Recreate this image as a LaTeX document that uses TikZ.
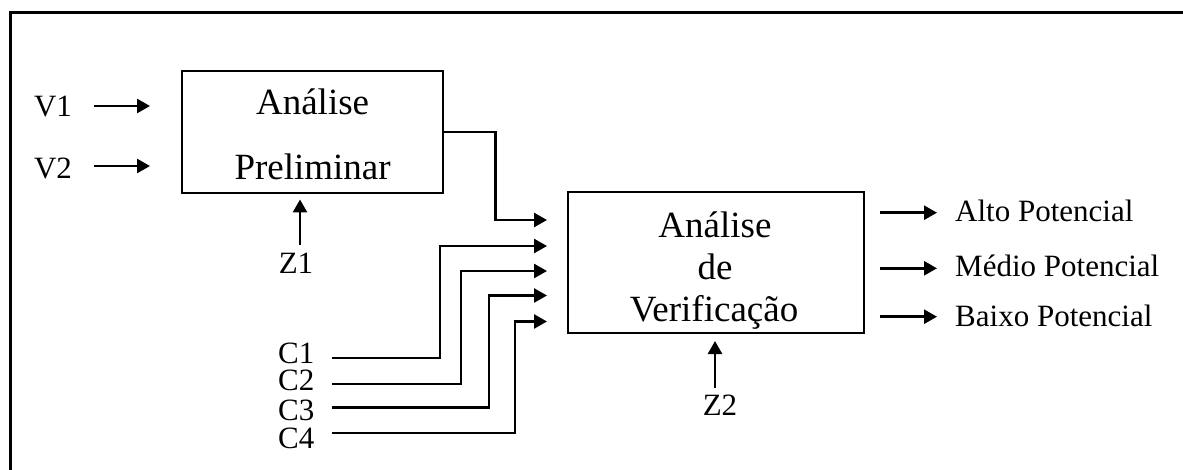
\documentclass[tikz,border=0pt]{standalone}
\usepackage{fontspec}
\setmainfont{Liberation Serif}
\usetikzlibrary{arrows.meta}
\begin{document}
\begin{tikzpicture}[x=1pt,y=-1pt,
  blk/.style={draw,line width=2pt,minimum width=#1,inner sep=0pt},
  bigtxt/.style={font=\fontsize{37}{40}\selectfont,inner sep=0pt,anchor=base},
  lbl/.style={font=\fontsize{31}{34}\selectfont,inner sep=0pt},
  conn/.style={line width=2.6pt,-{Triangle[length=13pt,width=14pt]}},
  wire/.style={line width=2.6pt}]
\useasboundingbox (0,0) rectangle (1183,470);
\clip (0,0) rectangle (1183,470);
\fill[white] (0,0) rectangle (1183,470);
% frame (only top and left edges are visible)
\draw[line width=2.4pt] (10.5,12.7) rectangle (1300,600);
% boxes
\node[blk=261.4pt,minimum height=121.7pt] (p) at (312.5,131.9) {};
\node[blk=296pt,minimum height=141pt] (v) at (716,262.5) {};
% box texts
\node[bigtxt] (p1) at (312.6,115) {Análise};
\node[bigtxt] (p2) at (312.6,179.3) {Preliminar};
\node[bigtxt] (v1t) at (715,237.3) {Análise};
\node[bigtxt] (v2t) at (715,279.3) {de};
\node[bigtxt] (v3t) at (714,321.7) {Verificação};
% input labels
\node[lbl,anchor=base] (V1) at (53,117) {V1};
\node[lbl,anchor=base] (V2) at (53,179) {V2};
\node[lbl,anchor=base] (Z1) at (296,274) {Z1};
\node[lbl,anchor=base] (Z2) at (720,415) {Z2};
\node[lbl,anchor=base west] (C1) at (278,363) {C1};
\node[lbl,anchor=base west] (C2) at (278,390.7) {C2};
\node[lbl,anchor=base west] (C3) at (278,420) {C3};
\node[lbl,anchor=base west] (C4) at (278,448) {C4};
% output labels
\node[lbl,anchor=base west] (o1) at (955,221.7) {Alto Potencial};
\node[lbl,anchor=base west] (o2) at (955,276.7) {Médio Potencial};
\node[lbl,anchor=base west] (o3) at (955,326.7) {Baixo Potencial};
% coordinates
\coordinate (v1s) at (94,106);   \coordinate (v1e) at (150,106);
\coordinate (v2s) at (94,166);   \coordinate (v2e) at (150,166);
\coordinate (z1s) at (300,245);  \coordinate (z1e) at (300,199.5);
\coordinate (z2s) at (715,388);  \coordinate (z2e) at (715,341);
\coordinate (i0) at (547,220);
\coordinate (i1) at (547,246);
\coordinate (i2) at (547,271);
\coordinate (i3) at (547,295.5);
\coordinate (i4) at (547,321.5);
\coordinate (c1s) at (332,358);
\coordinate (c2s) at (332,384);
\coordinate (c3s) at (332,407.5);
\coordinate (c4s) at (332,433);
\coordinate (a1s) at (880,212.7); \coordinate (a1e) at (937,212.7);
\coordinate (a2s) at (880,268.3); \coordinate (a2e) at (937,268.3);
\coordinate (a3s) at (880,316.7); \coordinate (a3e) at (937,316.7);
% connectors
\draw[conn] (v1s) -- (v1e);
\draw[conn] (v2s) -- (v2e);
\draw[conn] (z1s) -- (z1e);
\draw[conn] (z2s) -- (z2e);
\draw[conn] (p.east) -- (495.7,131.9) |- (i0);
\draw[conn] (c1s) -| (440,246) -- (i1);
\draw[conn] (c2s) -| (461,271) -- (i2);
\draw[conn] (c3s) -| (489,295.5) -- (i3);
\draw[conn] (c4s) -| (515,321.5) -- (i4);
\draw[conn] (a1s) -- (a1e);
\draw[conn] (a2s) -- (a2e);
\draw[conn] (a3s) -- (a3e);
\end{tikzpicture}
\end{document}
